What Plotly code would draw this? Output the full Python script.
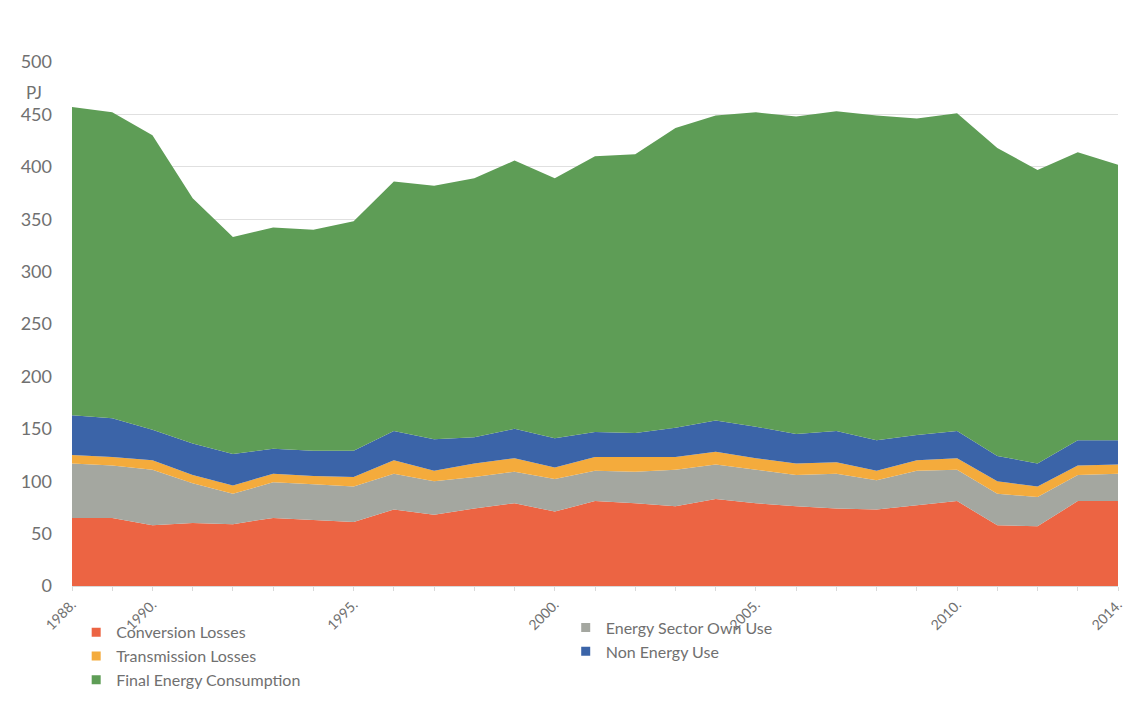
import plotly.graph_objects as go

# Energy balance, PJ per year (stacked)
years = list(range(1988, 2015))

conversion_losses = [65, 65, 58, 60, 59, 65, 63, 61, 73, 68, 74, 79, 71, 81, 79, 76,
                     83, 79, 76, 74, 73, 77, 81, 58, 57, 81, 81]
energy_sector_own_use = [52, 50, 53, 38, 29, 34, 34, 34, 34, 32, 30, 30, 31, 29, 30, 35,
                         33, 32, 30, 33, 28, 33, 30, 30, 28, 25, 26]
transmission_losses = [8, 8, 9, 8, 8, 8, 8, 9, 13, 10, 13, 13, 11, 13, 14, 12,
                       12, 11, 11, 11, 9, 10, 11, 12, 10, 9, 9]
non_energy_use = [38, 37, 29, 30, 30, 24, 24, 25, 28, 30, 25, 28, 28, 24, 23, 28,
                  30, 30, 28, 30, 29, 24, 26, 24, 22, 24, 23]
final_energy_consumption = [294, 292, 281, 234, 207, 211, 211, 219, 238, 242, 247, 256,
                            248, 263, 266, 286, 291, 300, 303, 305, 310, 302, 303, 294,
                            280, 275, 263]

x_tick_years = [1988, 1990, 1995, 2000, 2005, 2010, 2014]
x_tick_text = ["1988.", "1990.", "1995.", "2000.", "2005.", "2010.", "2014."]

series = [
    ("Conversion Losses", conversion_losses, "#ec6443", "legend"),
    ("Energy Sector Own Use", energy_sector_own_use, "#a4a7a0", "legend2"),
    ("Transmission Losses", transmission_losses, "#f4ab3c", "legend"),
    ("Non Energy Use", non_energy_use, "#3b64a8", "legend2"),
    ("Final Energy Consumption", final_energy_consumption, "#5e9d56", "legend"),
]

legend_rank = {
    "Conversion Losses": 1, "Transmission Losses": 2, "Final Energy Consumption": 3,
    "Energy Sector Own Use": 1, "Non Energy Use": 2,
}

fig = go.Figure()

for name, values, color, _ in series:
    fig.add_trace(go.Scatter(
        x=years, y=values, name=name, stackgroup="energy", mode="lines",
        line=dict(width=0, color=color), fillcolor=color, showlegend=False,
        hovertemplate="%{x}: %{y} PJ<extra>" + name + "</extra>",
    ))

# Square swatches for the legend entries
for name, values, color, legend_id in series:
    fig.add_trace(go.Scatter(
        x=[None], y=[None], name=name, mode="markers",
        marker=dict(symbol="square", size=9, color=color),
        legend=legend_id, legendrank=legend_rank[name], showlegend=True,
    ))

font_family = "Lato, 'Open Sans', sans-serif"
text_gray = "#707070"

fig.update_layout(
    width=1136, height=704,
    margin=dict(l=72, r=18, t=62, b=118, autoexpand=False),
    paper_bgcolor="white", plot_bgcolor="white",
    font=dict(family=font_family, color=text_gray),
    xaxis=dict(
        range=[1988, 2014], tickmode="array", tickvals=x_tick_years, ticktext=x_tick_text,
        tickangle=-45, tickfont=dict(size=14, color=text_gray),
        showgrid=False, zeroline=False, showline=True, linecolor="#d9d9d9", linewidth=1,
        ticks="outside", ticklen=4, tickcolor="#d9d9d9",
        minor=dict(tickmode="linear", tick0=1988, dtick=1, ticks="outside",
                   ticklen=4, tickcolor="#d9d9d9", showgrid=False),
    ),
    yaxis=dict(
        range=[0, 500], dtick=50, tickfont=dict(size=18, color=text_gray),
        showgrid=True, gridcolor="#e0e0e0", gridwidth=1, zeroline=False,
        ticks="", ticklabelstandoff=19,
    ),
    legend=dict(
        x=0.004, y=-0.056, xanchor="left", yanchor="top", orientation="v",
        traceorder="normal",
        font=dict(size=16, color=text_gray), bgcolor="rgba(0,0,0,0)",
        tracegroupgap=0, itemwidth=30,
    ),
    legend2=dict(
        x=0.472, y=-0.047, xanchor="left", yanchor="top", orientation="v",
        traceorder="normal",
        font=dict(size=16, color=text_gray), bgcolor="rgba(0,0,0,0)",
        tracegroupgap=0, itemwidth=30,
    ),
    annotations=[
        dict(text="PJ", xref="paper", yref="paper", x=-0.027, y=0.942,
             xanchor="right", yanchor="middle", showarrow=False,
             font=dict(size=17, color=text_gray, family=font_family)),
    ],
)

fig.write_html("out.html")
